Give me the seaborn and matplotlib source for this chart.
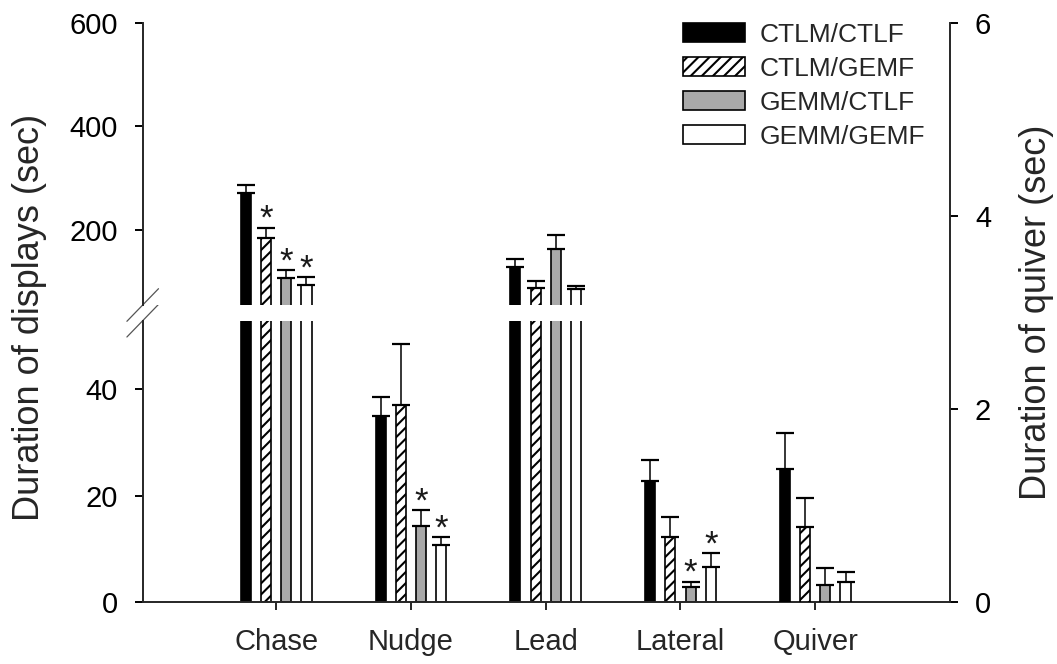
import matplotlib
matplotlib.use("Agg")
import matplotlib.pyplot as plt
from matplotlib.lines import Line2D
import seaborn as sns
import pandas as pd

categories = ["Chase", "Nudge", "Lead", "Lateral", "Quiver"]
display_categories = ["Chase", "Nudge", "Lead", "Lateral"]
groups = ["CTLM/CTLF", "CTLM/GEMF", "GEMM/CTLF", "GEMM/GEMF"]

# mean duration of displays (sec), in display_categories order
ctlm_ctlf = [270, 35, 128, 22.7]
ctlm_gemf = [183, 37, 86.5, 12.3]
gemm_ctlf = [106, 14.3, 163.5, 2.9]
gemm_gemf = [94, 10.7, 85, 6.6]

# standard errors of the display durations
ctlm_ctlf_se = [17, 3.6, 15, 4.0]
ctlm_gemf_se = [21, 11.5, 14, 3.8]
gemm_ctlf_se = [16, 3.0, 25.5, 1.0]
gemm_gemf_se = [15, 1.5, 6.5, 2.7]

# quiver duration (sec), read on the right-hand axis, in groups order
quiver_mean = [1.38, 0.78, 0.18, 0.21]
quiver_se = [0.375, 0.30, 0.18, 0.10]

# bars marked with an asterisk
significant = [("Chase", "CTLM/GEMF"), ("Chase", "GEMM/CTLF"), ("Chase", "GEMM/GEMF"),
               ("Nudge", "GEMM/CTLF"), ("Nudge", "GEMM/GEMF"),
               ("Lateral", "GEMM/CTLF"), ("Lateral", "GEMM/GEMF")]

low_ticks = [0, 20, 40]
high_ticks = [200, 400, 600]
quiver_ticks = [0, 2, 4, 6]

# ---------------------------------------------------------------- data frames
rows = []
for g, means, ses in zip(groups,
                         [ctlm_ctlf, ctlm_gemf, gemm_ctlf, gemm_gemf],
                         [ctlm_ctlf_se, ctlm_gemf_se, gemm_ctlf_se, gemm_gemf_se]):
    for c, m, s in zip(display_categories, means, ses):
        rows.append({"category": c, "group": g, "mean": m, "se": s})
displays = pd.DataFrame(rows)
quiver = pd.DataFrame({"category": "Quiver", "group": groups,
                       "mean": quiver_mean, "se": quiver_se})

# ---------------------------------------------------------------- style
sns.set_style("ticks")
plt.rcParams["font.family"] = ["Liberation Sans", "DejaVu Sans"]
plt.rcParams["hatch.linewidth"] = 1.5
plt.rcParams["axes.linewidth"] = 1.4

W, H = 1057, 664
fig = plt.figure(figsize=(W / 100, H / 100), dpi=100)


def box(x0, y_top, x1, y_bot):
    return [x0 / W, 1 - y_bot / H, (x1 - x0) / W, (y_bot - y_top) / H]


ax_low = fig.add_axes(box(142.7, 320.7, 950, 602.3))
ax_high = fig.add_axes(box(142.7, 22.7, 950, 305))
ax_q = fig.add_axes(box(142.7, 23.3, 950, 602.3))
ax_q.set_facecolor("none")

palette = dict(zip(groups, ["black", "white", "#a9a9a9", "white"]))
hatches = dict(zip(groups, ["", "///", "", ""]))
bar_kw = dict(x="category", y="mean", hue="group", order=categories,
              hue_order=groups, palette=palette, width=0.6, gap=0.5,
              edgecolor="black", linewidth=1.2, errorbar=None,
              legend=False, saturation=1)

sns.barplot(data=displays, ax=ax_low, **bar_kw)
sns.barplot(data=displays, ax=ax_high, **bar_kw)
sns.barplot(data=quiver, ax=ax_q, **bar_kw)

ax_low.set_ylim(0, 52.9)
ax_high.set_ylim(54.4, 600)
ax_q.set_ylim(0, 6)

slot = 0.6 / len(groups)
legend_handles = {}
for ax, frame in ((ax_low, displays), (ax_high, displays), (ax_q, quiver)):
    ax.set_xlim(-0.99, 5.0)
    for patch in list(ax.patches):
        xc = patch.get_x() + patch.get_width() / 2
        ci = int(round(xc))
        gi = int(round((xc - ci + 0.3 - slot / 2) / slot))
        cat, grp = categories[ci], groups[gi]
        patch.set_hatch(hatches[grp])
        legend_handles.setdefault(grp, patch)
        rec = frame[(frame["category"] == cat) & (frame["group"] == grp)].iloc[0]
        ax.errorbar(xc, rec["mean"], yerr=[[0], [rec["se"]]], fmt="none",
                    ecolor="black", elinewidth=1.1, capsize=6.3, capthick=1.6,
                    zorder=1)
        cap = rec["mean"] + rec["se"]
        lo, hi = ax.get_ylim()
        if (cat, grp) in significant and lo < cap < hi:
            ax.annotate("*", xy=(xc, cap), xytext=(0, -1),
                        textcoords="offset points", ha="center",
                        va="baseline", fontsize=25, color="#1a1a1a")
    ax.set_xlabel("")
    ax.set_ylabel("")

# ---------------------------------------------------------------- axes
tick_kw = dict(direction="out", length=6, width=1.4, labelsize=21, pad=12,
               colors="black")

ax_low.set_yticks(low_ticks)
ax_low.tick_params(axis="y", **tick_kw)
ax_low.tick_params(axis="x", direction="out", length=5.5, width=1.4,
                   labelsize=21, pad=13)
ax_low.set_xticks(range(len(categories)))
ax_low.set_xticklabels(categories)
for s in ("top", "right"):
    ax_low.spines[s].set_visible(False)

ax_high.set_yticks(high_ticks)
ax_high.tick_params(axis="y", **tick_kw)
ax_high.tick_params(axis="x", bottom=False, labelbottom=False)
for s in ("top", "right", "bottom"):
    ax_high.spines[s].set_visible(False)

ax_q.yaxis.tick_right()
ax_q.yaxis.set_label_position("right")
ax_q.set_yticks(quiver_ticks)
ax_q.tick_params(axis="y", **tick_kw)
ax_q.tick_params(axis="x", bottom=False, labelbottom=False)
for s in ("top", "left", "bottom"):
    ax_q.spines[s].set_visible(False)

# axis break marks on the left spine
dx = 15.8 / 807.3
for ax, h_px in ((ax_low, 281.6), (ax_high, 282.3)):
    y0 = 1.0 if ax is ax_low else 0.0
    dy = 16.3 / h_px
    ax.add_line(Line2D([-dx, dx], [y0 - dy, y0 + dy], transform=ax.transAxes,
                       color="#555555", linewidth=0.9, clip_on=False))

# axis titles
ax_high.set_ylabel("Duration of displays (sec)", fontsize=26)
ax_high.yaxis.set_label_coords(46.6 / W, 1 - 317 / H, transform=fig.transFigure)
ax_q.set_ylabel("Duration of quiver (sec)", fontsize=26)
ax_q.yaxis.set_label_coords(1019.5 / W, 1 - 312 / H, transform=fig.transFigure)

fig.legend([legend_handles[g] for g in groups], groups,
           loc="upper left", bbox_to_anchor=(682.7 / W, 1 - 23 / H),
           frameon=False, fontsize=19, handlelength=2.35, handleheight=0.72,
           handletextpad=0.57, labelspacing=0.38, borderpad=0,
           borderaxespad=0)

fig.savefig("out.png", dpi=100)
